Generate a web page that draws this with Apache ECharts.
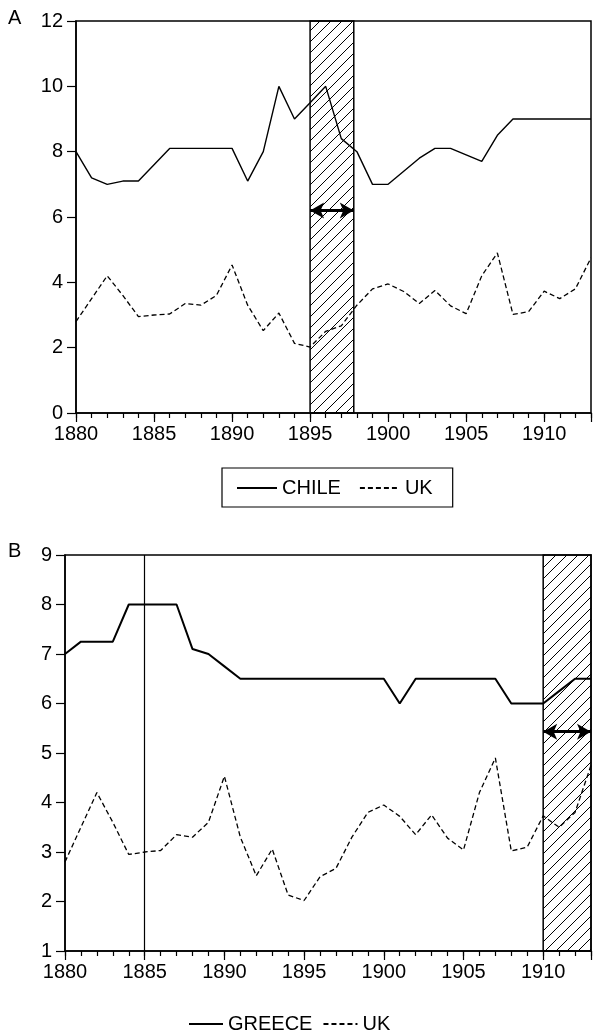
<!DOCTYPE html>
<html><head><meta charset="utf-8">
<script src="https://cdn.jsdelivr.net/npm/echarts@6/dist/echarts.min.js"></script>
<style>html,body{margin:0;padding:0;background:#fff}#c{width:594px;height:1036px}</style>
</head><body><div id="c"></div>
<script>
const years = [1880,1881,1882,1883,1884,1885,1886,1887,1888,1889,1890,1891,1892,1893,1894,1895,1896,1897,1898,1899,1900,1901,1902,1903,1904,1905,1906,1907,1908,1909,1910,1911,1912,1913];
const chile = [8.0,7.2,7.0,7.1,7.1,7.6,8.1,8.1,8.1,8.1,8.1,7.1,8.0,10.0,9.0,9.5,10.0,8.4,8.0,7.0,7.0,7.4,7.8,8.1,8.1,7.9,7.7,8.5,9.0,9.0,9.0,9.0,9.0,9.0];
const greece = [7.0,7.25,7.25,7.25,8.0,8.0,8.0,8.0,7.1,7.0,6.75,6.5,6.5,6.5,6.5,6.5,6.5,6.5,6.5,6.5,6.5,6.0,6.5,6.5,6.5,6.5,6.5,6.5,6.0,6.0,6.0,6.25,6.5,6.5];
const uk = [2.8,3.5,4.2,3.6,2.95,3.0,3.03,3.35,3.3,3.6,4.53,3.3,2.52,3.06,2.13,2.02,2.5,2.67,3.3,3.8,3.95,3.72,3.35,3.75,3.28,3.04,4.2,4.9,3.02,3.1,3.73,3.5,3.8,4.75];
const shadeA = [1895, 1897.8];
const arrowA = 6.2;
const shadeB = [1910, 1913];
const arrowB = 5.43;
const lineB = 1885;
const yTicksA = [0, 12, 2];
const yTicksB = [1, 9, 1];

const F = 'Liberation Sans, Arial, sans-serif';
const pc = document.createElement('canvas');
pc.width = 11; pc.height = 11;
const g = pc.getContext('2d');
g.strokeStyle = '#000'; g.lineWidth = 1;
g.beginPath(); g.moveTo(-1, 12); g.lineTo(12, -1); g.stroke();
g.beginPath(); g.moveTo(-6, 6); g.lineTo(6, -6); g.stroke();
g.beginPath(); g.moveTo(5, 17); g.lineTo(17, 5); g.stroke();
const hatch = { image: pc, repeat: 'repeat' };

const pairs = (arr) => years.map((y, i) => [y, arr[i]]);

function xAxes(gi) {
  return [
    { gridIndex: gi, type: 'value', min: 1880, max: 1913, interval: 5, position: 'bottom',
      axisLine: { onZero: false, lineStyle: { color: '#000', width: 1.5 } },
      axisTick: { length: 9, lineStyle: { color: '#000', width: 1.2 } },
      axisLabel: { color: '#000', fontSize: 20, fontFamily: F, margin: 11,
        formatter: v => (v % 5 === 0 ? String(v) : '') },
      splitLine: { show: false } },
    { gridIndex: gi, type: 'value', min: 1880, max: 1913, interval: 1, position: 'bottom',
      axisLine: { show: false, onZero: false },
      axisTick: { length: 5, lineStyle: { color: '#000', width: 1.2 } },
      axisLabel: { show: false }, splitLine: { show: false } }
  ];
}
function yAxis(gi, t) {
  return { gridIndex: gi, type: 'value', min: t[0], max: t[1], interval: t[2],
    axisLine: { onZero: false, lineStyle: { color: '#000', width: 1.5 } },
    axisTick: { length: 9, lineStyle: { color: '#000', width: 1.2 } },
    axisLabel: { color: '#000', fontSize: 20, fontFamily: F, margin: 13 },
    splitLine: { show: false } };
}
const arrowLine = (x0, x1, y) => ({
  silent: true, symbol: ['arrow', 'arrow'], symbolSize: [12, 14],
  lineStyle: { color: '#000', width: 3, type: 'solid' }, label: { show: false },
  data: [[{ coord: [x0, y] }, { coord: [x1, y] }]]
});
const area = (x0, x1) => ({
  silent: true,
  itemStyle: { color: hatch, borderColor: '#000', borderWidth: 1.5 },
  data: [[{ xAxis: x0 }, { xAxis: x1 }]]
});
const legendItem = { opacity: 0, borderWidth: 0 };

const chart = echarts.init(document.getElementById('c'), null, { renderer: 'canvas' });
chart.setOption({
  animation: false,
  backgroundColor: '#fff',
  textStyle: { fontFamily: F },
  grid: [
    { left: 76, top: 21, width: 523.5, height: 392, show: true, borderColor: '#000', borderWidth: 1.5, backgroundColor: 'transparent' },
    { left: 65, top: 555, width: 528, height: 396, show: true, borderColor: '#000', borderWidth: 1.5, backgroundColor: 'transparent' }
  ],
  xAxis: [...xAxes(0), ...xAxes(1)],
  yAxis: [yAxis(0, yTicksA), yAxis(1, yTicksB)],
  legend: [
    { left: 222, top: 468, orient: 'horizontal', padding: [10, 20, 9, 14], itemGap: 18, itemWidth: 40, itemHeight: 14,
      itemStyle: legendItem,
      borderColor: '#000', borderWidth: 1.2, textStyle: { color: '#000', fontSize: 20, fontFamily: F },
      data: ['CHILE', 'UK'] },
    { left: 188, top: 1014, orient: 'horizontal', padding: 0, itemGap: 10, itemWidth: 34, itemHeight: 14,
      itemStyle: legendItem,
      textStyle: { color: '#000', fontSize: 20, fontFamily: F },
      data: ['GREECE', 'UK'] }
  ],
  graphic: [
    { type: 'text', left: 8, top: 8, style: { text: 'A', font: '20px ' + F, fill: '#000' } },
    { type: 'text', left: 8, top: 541, style: { text: 'B', font: '20px ' + F, fill: '#000' } }
  ],
  series: [
    { name: 'CHILE', type: 'line', xAxisIndex: 0, yAxisIndex: 0, data: pairs(chile), showSymbol: false, symbol: 'none',
      lineStyle: { color: '#000', width: 1.4 }, itemStyle: { color: '#000' },
      markArea: area(shadeA[0], shadeA[1]), markLine: arrowLine(shadeA[0], shadeA[1], arrowA), z: 3 },
    { name: 'UK', type: 'line', xAxisIndex: 0, yAxisIndex: 0, data: pairs(uk), showSymbol: false, symbol: 'none',
      lineStyle: { color: '#000', width: 1.3, type: [5, 3] }, itemStyle: { color: '#000' }, z: 3 },
    { name: 'GREECE', type: 'line', xAxisIndex: 2, yAxisIndex: 1, data: pairs(greece), showSymbol: false, symbol: 'none',
      lineStyle: { color: '#000', width: 2 }, itemStyle: { color: '#000' },
      markArea: area(shadeB[0], shadeB[1]), markLine: arrowLine(shadeB[0], shadeB[1], arrowB), z: 3 },
    { name: 'UK', type: 'line', xAxisIndex: 2, yAxisIndex: 1, data: pairs(uk), showSymbol: false, symbol: 'none',
      lineStyle: { color: '#000', width: 1.3, type: [5, 3] }, itemStyle: { color: '#000' }, z: 3,
      markLine: { silent: true, symbol: ['none', 'none'], label: { show: false },
        lineStyle: { color: '#000', width: 1.2, type: 'solid' }, data: [{ xAxis: lineB }] } }
  ]
});
</script></body></html>
